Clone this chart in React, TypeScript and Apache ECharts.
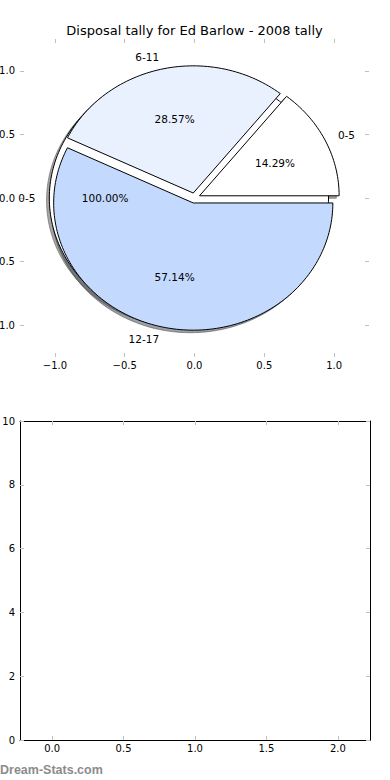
import React, { useEffect, useRef } from "react";
import * as echarts from "echarts";

const TITLE = "Disposal tally for Ed Barlow - 2008 tally";
const WATERMARK = "Dream-Stats.com";

// first (background) pie: one slice at 100%
const BASE_LABELS = ["0-5"];
const BASE_VALUES = [1];
const BASE_COLORS = ["#FFFFFF"];
const BASE_EXPLODE = [0.04];

// main pie
const SLICE_LABELS = ["0-5", "6-11", "12-17"];
const SLICE_VALUES = [1, 2, 4];
const SLICE_COLORS = ["#FFFFFF", "#EAF1FE", "#C4D9FE"];
const SLICE_EXPLODE = [0.04, 0.04, 0.04];

const PIE_TICKS = [-1, -0.5, 0, 0.5, 1];
const EMPTY_X_TICKS = [0, 0.5, 1, 1.5, 2];

type Wedge = {
  t1: number;
  t2: number;
  ex: number;
  color: string;
  label: string;
  pct: string;
};

function buildWedges(labels: string[], values: number[], colors: string[], explode: number[]): Wedge[] {
  const total = values.reduce((a, b) => a + b, 0);
  let theta = 0;
  return values.map((v, i) => {
    const t1 = theta;
    const t2 = theta + (360 * v) / total;
    theta = t2;
    return {
      t1,
      t2,
      ex: explode[i],
      color: colors[i],
      label: labels[i],
      pct: ((100 * v) / total).toFixed(2) + "%",
    };
  });
}

const WEDGES: Wedge[] = [
  ...buildWedges(BASE_LABELS, BASE_VALUES, BASE_COLORS, BASE_EXPLODE),
  ...buildWedges(SLICE_LABELS, SLICE_VALUES, SLICE_COLORS, SLICE_EXPLODE),
];

const FONT = "DejaVu Sans";
const TICK_GRAY = "#bfbfbf";

function fmt1(v: number) {
  const s = Math.abs(v).toFixed(1);
  return v < 0 ? "\u2212" + s : s;
}

function wedgePoints(w: Wedge, api: any, dx: number, dy: number) {
  const mid = (((w.t1 + w.t2) / 2) * Math.PI) / 180;
  const cx = w.ex * Math.cos(mid) + dx;
  const cy = w.ex * Math.sin(mid) + dy;
  const full = w.t2 - w.t1 >= 359.999;
  const pts: number[][] = [];
  if (!full) pts.push(api.coord([cx, cy]));
  const n = Math.max(12, Math.ceil((w.t2 - w.t1) / 1.5));
  for (let k = 0; k <= n; k++) {
    const a = ((w.t1 + ((w.t2 - w.t1) * k) / n) * Math.PI) / 180;
    pts.push(api.coord([cx + Math.cos(a), cy + Math.sin(a)]));
  }
  return pts;
}

function shadowColor(hex: string) {
  const r = parseInt(hex.slice(1, 3), 16);
  const g = parseInt(hex.slice(3, 5), 16);
  const b = parseInt(hex.slice(5, 7), 16);
  return `rgba(${Math.round(r * 0.3)},${Math.round(g * 0.3)},${Math.round(b * 0.3)},0.5)`;
}

export default function App() {
  const ref = useRef<HTMLDivElement>(null);

  useEffect(() => {
    if (!ref.current) return;
    const chart = echarts.init(ref.current, undefined, { renderer: "svg" });
    const data = WEDGES.map((_, i) => [i]);

    const pieAxisCommon = {
      type: "value",
      min: -1.25,
      max: 1.25,
      gridIndex: 0,
      axisLine: { show: true, onZero: false, lineStyle: { color: "rgba(0,0,0,0)" } },
      splitLine: { show: false },
      axisTick: {
        show: true,
        inside: true,
        length: 4,
        lineStyle: { color: TICK_GRAY, width: 1 },
        customValues: PIE_TICKS,
      },
    };

    const frameLine = { show: true, onZero: false, lineStyle: { color: "#000", width: 1 } };

    const option: any = {
      animation: false,
      backgroundColor: "#ffffff",
      grid: [
        { left: 20, top: 39, width: 349, height: 318, containLabel: false, outerBoundsMode: "none" },
        { left: 20, top: 421, width: 350, height: 319, containLabel: false, outerBoundsMode: "none" },
      ],
      xAxis: [
        {
          ...pieAxisCommon,
          position: "bottom",
          axisLabel: {
            customValues: PIE_TICKS,
            formatter: (v: number) => fmt1(v),
            fontSize: 10,
            fontFamily: FONT,
            color: "#000",
            margin: 3,
          },
        },
        { ...pieAxisCommon, position: "top", axisLabel: { show: false } },
        {
          type: "value",
          gridIndex: 1,
          position: "bottom",
          min: -0.225,
          max: 2.225,
          splitLine: { show: false },
          axisLine: frameLine,
          axisTick: {
            inside: true,
            length: 4,
            lineStyle: { color: TICK_GRAY },
            customValues: EMPTY_X_TICKS,
          },
          axisLabel: {
            customValues: EMPTY_X_TICKS,
            formatter: (v: number) => fmt1(v),
            fontSize: 10,
            fontFamily: FONT,
            color: "#000",
            margin: 3,
          },
        },
        {
          type: "value",
          gridIndex: 1,
          position: "top",
          min: -0.225,
          max: 2.225,
          splitLine: { show: false },
          axisLine: frameLine,
          axisTick: {
            inside: true,
            length: 4,
            lineStyle: { color: TICK_GRAY },
            customValues: EMPTY_X_TICKS,
          },
          axisLabel: { show: false },
        },
      ],
      yAxis: [
        {
          ...pieAxisCommon,
          position: "left",
          axisLabel: {
            customValues: PIE_TICKS,
            formatter: (v: number) => fmt1(v),
            fontSize: 10,
            fontFamily: FONT,
            color: "#000",
            margin: 5,
          },
        },
        { ...pieAxisCommon, position: "right", axisLabel: { show: false } },
        {
          type: "value",
          gridIndex: 1,
          position: "left",
          min: 0,
          max: 10,
          interval: 2,
          splitLine: { show: false },
          axisLine: frameLine,
          axisTick: { inside: true, length: 4, lineStyle: { color: TICK_GRAY } },
          axisLabel: {
            fontSize: 10,
            fontFamily: FONT,
            color: "#000",
            margin: 5,
          },
        },
        {
          type: "value",
          gridIndex: 1,
          position: "right",
          min: 0,
          max: 10,
          interval: 2,
          splitLine: { show: false },
          axisLine: frameLine,
          axisTick: { inside: true, length: 4, lineStyle: { color: TICK_GRAY } },
          axisLabel: { show: false },
        },
      ],
      series: [
        {
          type: "custom",
          name: "shadows",
          xAxisIndex: 0,
          yAxisIndex: 0,
          z: 1,
          silent: true,
          data,
          renderItem: (params: any, api: any) => {
            const w = WEDGES[api.value(0)];
            const c = shadowColor(w.color);
            return {
              type: "polygon",
              shape: { points: wedgePoints(w, api, -0.02, -0.02) },
              style: { fill: c, stroke: c, lineWidth: 1 },
            };
          },
        },
        {
          type: "custom",
          name: "wedges",
          xAxisIndex: 0,
          yAxisIndex: 0,
          z: 2,
          silent: true,
          data,
          renderItem: (params: any, api: any) => {
            const w = WEDGES[api.value(0)];
            return {
              type: "polygon",
              shape: { points: wedgePoints(w, api, 0, 0) },
              style: { fill: w.color, stroke: "#000", lineWidth: 1, lineJoin: "miter" },
            };
          },
        },
        {
          type: "custom",
          name: "labels",
          xAxisIndex: 0,
          yAxisIndex: 0,
          z: 3,
          silent: true,
          data,
          renderItem: (params: any, api: any) => {
            const w = WEDGES[api.value(0)];
            const mid = (((w.t1 + w.t2) / 2) * Math.PI) / 180;
            const cx = w.ex * Math.cos(mid);
            const cy = w.ex * Math.sin(mid);
            const lx = cx + 1.1 * Math.cos(mid);
            const ly = cy + 1.1 * Math.sin(mid);
            const px = cx + 0.6 * Math.cos(mid);
            const py = cy + 0.6 * Math.sin(mid);
            const lp = api.coord([lx, ly]);
            const pp = api.coord([px, py]);
            return {
              type: "group",
              children: [
                {
                  type: "text",
                  x: lp[0],
                  y: lp[1],
                  style: {
                    text: w.label,
                    fill: "#000",
                    fontSize: 10.5,
                    fontFamily: FONT,
                    align: lx > 0 ? "left" : "right",
                    verticalAlign: "middle",
                  },
                },
                {
                  type: "text",
                  x: pp[0],
                  y: pp[1],
                  style: {
                    text: w.pct,
                    fill: "#000",
                    fontSize: 10.5,
                    fontFamily: FONT,
                    align: "center",
                    verticalAlign: "middle",
                  },
                },
              ],
            };
          },
        },
      ],
      graphic: [
        {
          type: "text",
          x: 194.5,
          y: 30,
          style: {
            text: TITLE,
            fill: "#000",
            fontSize: 13,
            fontFamily: FONT,
            align: "center",
            verticalAlign: "middle",
          },
        },
        {
          type: "text",
          x: 0,
          y: 770,
          style: {
            text: WATERMARK,
            fill: "#8c8c8c",
            fontSize: 12.5,
            fontWeight: "bold",
            fontFamily: "Liberation Sans",
            align: "left",
            verticalAlign: "middle",
          },
        },
      ],
    };

    chart.setOption(option);
    return () => chart.dispose();
  }, []);

  return (
    <div
      ref={ref}
      style={{ position: "fixed", left: 0, top: 0, width: 390, height: 780, background: "#fff" }}
    />
  );
}
